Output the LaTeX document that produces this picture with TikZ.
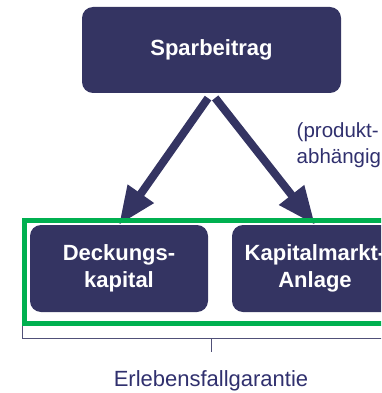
\documentclass[tikz,border=0pt]{standalone}
\usepackage{fontspec}
\setmainfont{Liberation Sans}
\usetikzlibrary{positioning,arrows.meta}
\definecolor{navy}{RGB}{52,52,98}
\definecolor{labelblue}{RGB}{48,48,110}
\definecolor{frameGreen}{RGB}{0,176,80}
\definecolor{braceGray}{RGB}{80,80,120}

\begin{document}
\begin{tikzpicture}[x=1pt, y=-1pt,
    box/.style = {rectangle, rounded corners=11pt, fill=navy, text=white, font=\bfseries\fontsize{22}{27}\selectfont, align=center, minimum width=178pt, minimum height=87pt, inner sep=0pt},
    flow/.style = {navy, line width=8pt, -{Triangle[length=38pt, width=30pt]}, shorten <=6pt},
    note/.style = {text=labelblue, inner sep=0pt}]
        \useasboundingbox (0,0) rectangle (381,393);
        \clip (0,0) rectangle (381,393);

        \node[box, minimum width=259pt, minimum height=86pt] (spar) at (211.5, 50) {Sparbeitrag};
        \node[box] (deck) at (119, 268.5) {Deckungs-\\kapital};
        \node[box, minimum width=166pt] (kap) at (315, 268.5) {Kapitalmarkt-\\Anlage};

        \draw[flow] (spar.south) -- (deck.north);
        \draw[flow] (spar.south) -- (kap.north);

        \node[draw=frameGreen, line width=5pt, minimum width=373pt, minimum height=103.5pt] (grp) at (211, 271.75) {};

        % bracket under the group
        \draw[braceGray, line width=1pt] (grp.south west) -- ++(0,12) coordinate (bl) -- (bl -| grp.south east);
        \draw[braceGray, line width=1pt] (bl -| grp.south) -- ++(0,14) coordinate (tick);

        \node[note, font=\fontsize{22}{26}\selectfont, below = 18pt of tick] (erl) {Erlebensfallgarantie};
        \node[note, font=\fontsize{20.5}{26}\selectfont, align=left, anchor=north west] (prod) at (296.5, 122) {(produkt-\\abhängig};
      \end{tikzpicture}
\end{document}
